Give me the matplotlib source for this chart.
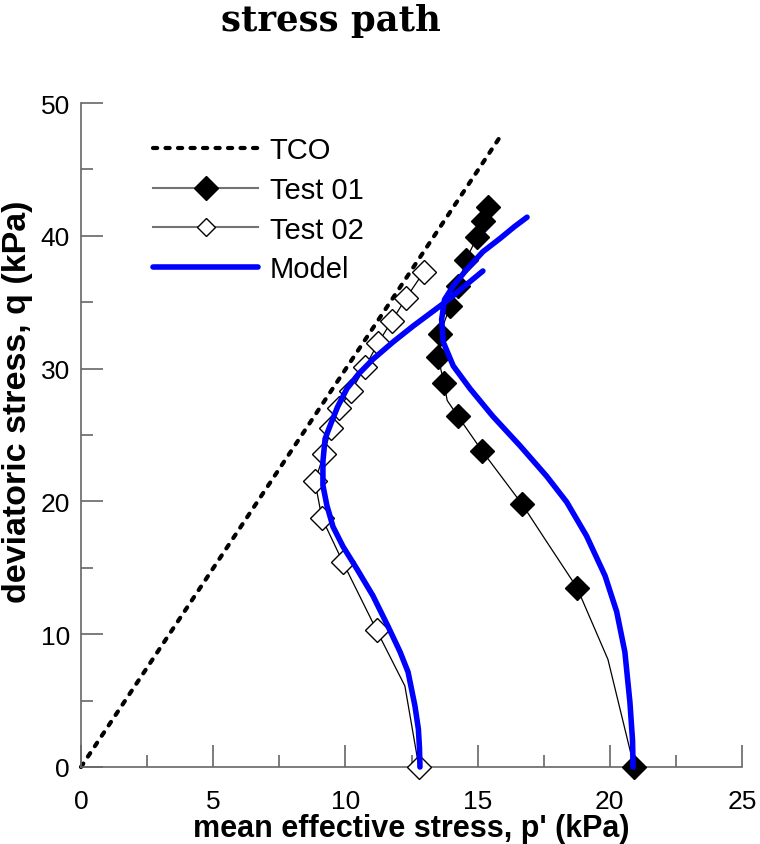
import matplotlib.pyplot as plt
import numpy as np

plt.rcParams.update({'font.family': ['Liberation Sans', 'DejaVu Sans'], 'font.size': 19})

# TCO line q = 3p
tco_p = [0.0, 15.9]
tco_q = [0.0, 47.6]

# Test 01 (markers and the thin line through them)
t1_p = [20.92, 18.76, 16.68, 15.17, 14.26, 13.73, 13.50, 13.58, 13.96, 14.26, 14.56, 14.98, 15.20, 15.39]
t1_q = [0.0, 13.5, 19.8, 23.8, 26.4, 28.9, 30.9, 32.6, 34.7, 36.2, 38.2, 39.9, 41.1, 42.2]
t1_line_p = [20.92, 19.93, 18.76, 17.60, 16.68, 15.17, 14.26, 13.85, 13.73, 13.50, 13.58, 13.96, 14.26, 14.56, 14.98, 15.20, 15.39]
t1_line_q = [0.0, 8.1, 13.5, 17.0, 19.8, 23.8, 26.4, 27.6, 28.9, 30.9, 32.6, 34.7, 36.2, 38.2, 39.9, 41.1, 42.2]

# Test 02
t2_p = [12.78, 11.18, 9.91, 9.11, 8.85, 9.19, 9.46, 9.76, 10.21, 10.74, 11.23, 11.76, 12.29, 12.97]
t2_q = [0.0, 10.3, 15.4, 18.75, 21.5, 23.6, 25.5, 27.0, 28.3, 30.1, 31.9, 33.6, 35.3, 37.3]
t2_line_p = [12.78, 12.25, 11.18, 9.91, 9.11, 8.85, 9.19, 9.46, 9.76, 10.21, 10.74, 11.23, 11.76, 12.29, 12.97]
t2_line_q = [0.0, 6.1, 10.3, 15.4, 18.75, 21.5, 23.6, 25.5, 27.0, 28.3, 30.1, 31.9, 33.6, 35.3, 37.3]

# Model curves
m1_p = [12.82, 12.80, 12.76, 12.63, 12.37, 12.07, 11.61, 11.04, 10.44, 9.91, 9.53, 9.30, 9.15,
        9.15, 9.23, 9.42, 9.70, 10.06, 10.50, 11.04, 11.80, 12.56, 13.20, 13.84, 14.50, 15.20]
m1_q = [0.0, 1.5, 2.86, 4.6, 7.15, 8.66, 10.6, 12.9, 14.9, 16.6, 18.1, 19.7, 21.2,
        23.0, 24.7, 25.7, 27.1, 28.5, 29.6, 30.7, 32.0, 33.2, 34.15, 35.1, 36.2, 37.35]
m2_p = [20.88, 20.86, 20.76, 20.57, 20.26, 19.82, 19.12, 18.37, 17.61, 16.60, 15.58, 14.71, 14.08,
        13.70, 13.64, 13.75, 14.07, 14.60, 15.20, 15.85, 16.40, 16.87]
m2_q = [0.0, 2.0, 4.9, 8.66, 11.7, 14.4, 17.4, 19.95, 21.9, 24.2, 26.4, 28.5, 30.2,
        32.0, 33.7, 35.2, 36.2, 37.5, 38.8, 39.8, 40.7, 41.4]

blue = '#0000ff'
dots = (0, (1, 2))

fig = plt.figure(figsize=[7.6, 8.45], dpi=100)
ax = fig.add_axes([81 / 760, 1 - 768 / 845, 661 / 760, 664 / 845])

ax.plot(tco_p, tco_q, color='black', lw=3, linestyle=dots, dash_capstyle='round', clip_on=False)
ax.plot(t1_line_p, t1_line_q, color='black', lw=0.9, clip_on=False)
ax.plot(t2_line_p, t2_line_q, color='black', lw=0.9, clip_on=False)
ax.plot(t1_p, t1_q, 'D', color='black', ms=12, mew=1, clip_on=False, zorder=3)
ax.plot(t2_p, t2_q, 'D', mfc='white', mec='black', ms=12, mew=1, clip_on=False, zorder=3)
ax.plot(m1_p, m1_q, color=blue, lw=4, solid_capstyle='round', solid_joinstyle='round', clip_on=False, zorder=4)
ax.plot(m2_p, m2_q, color=blue, lw=4, solid_capstyle='round', solid_joinstyle='round', clip_on=False, zorder=4)

# legend handles
h_tco, = ax.plot([], [], color='black', lw=3, linestyle=dots, dash_capstyle='round')
h1, = ax.plot([], [], color='0.45', lw=1.5, marker='D', mfc='black', mec='black', ms=12)
h2, = ax.plot([], [], color='0.45', lw=1.5, marker='D', mfc='white', mec='black', ms=9)
hm, = ax.plot([], [], color=blue, lw=4, solid_capstyle='round')
ax.legend([h_tco, h1, h2, hm], ['TCO', 'Test 01', 'Test 02', 'Model'], frameon=False,
          loc='upper left', bbox_to_anchor=(0.109, 0.95), borderaxespad=0, borderpad=0,
          handlelength=3.6, fontsize=21, labelspacing=0.4, handletextpad=0.4)

ax.set_xlim(0, 25)
ax.set_ylim(0, 50)
ax.set_xticks(np.arange(0, 26, 5))
ax.set_xticks(np.arange(0, 26, 2.5), minor=True)
ax.set_yticks(np.arange(0, 51, 10))
ax.set_yticks(np.arange(0, 51, 5), minor=True)
for s in ['top', 'right']:
    ax.spines[s].set_visible(False)
for s in ['left', 'bottom']:
    ax.spines[s].set_color('0.4')
    ax.spines[s].set_linewidth(1.2)
ax.tick_params(which='major', direction='in', length=16, width=1.2, color='0.4', labelsize=19)
ax.tick_params(which='minor', direction='in', length=8.5, width=1.2, color='0.4')
ax.tick_params(axis='x', which='major', pad=16)
ax.tick_params(axis='y', which='major', pad=8)

ax.set_xlabel("mean effective stress, p' (kPa)", fontsize=22, fontweight='bold', labelpad=0)
ax.set_ylabel('deviatoric stress, q (kPa)', fontsize=24.5, fontweight='bold')
ax.yaxis.set_label_coords(-0.0726, 0.551)

fig.text(331 / 760, 1 - 21 / 845, 'stress path', family='DejaVu Serif', fontweight='bold',
         fontsize=25.5, ha='center', va='center')

fig.savefig('out.png')
